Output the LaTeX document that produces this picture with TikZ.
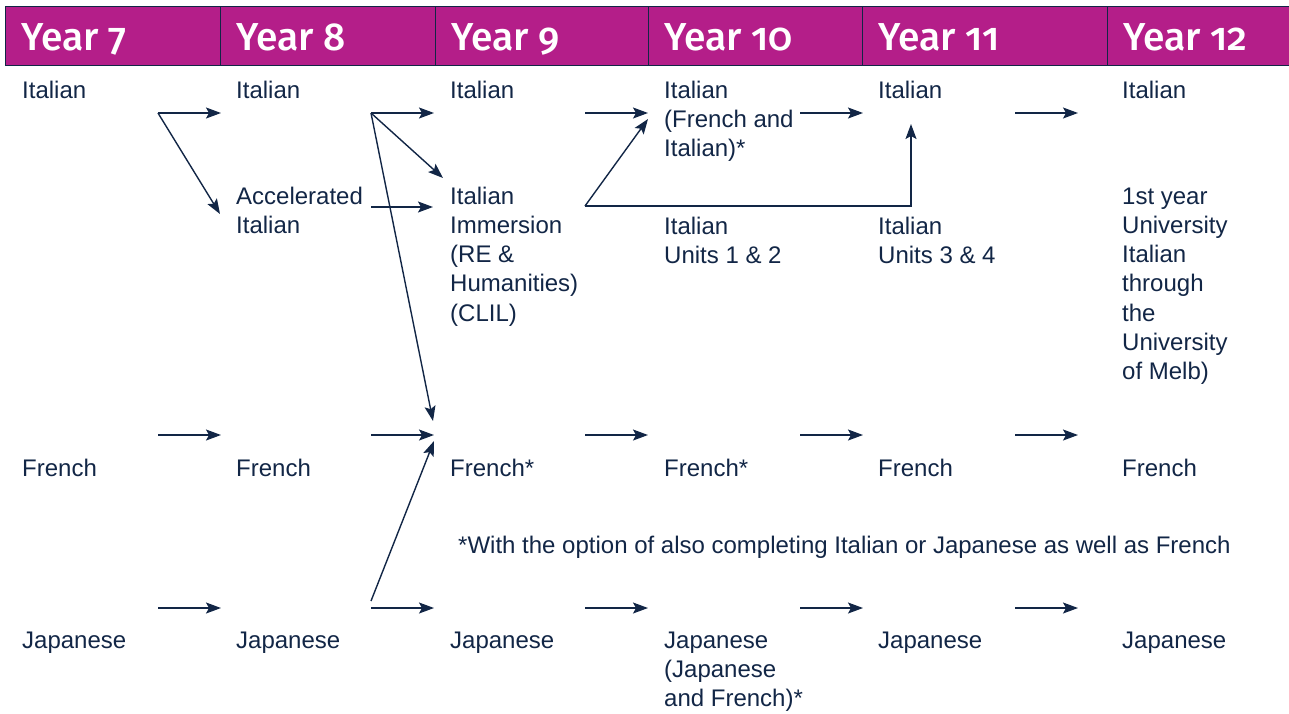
\documentclass[tikz,border=0pt]{standalone}
\usepackage{fontspec}
\setmainfont{Liberation Sans}
\IfFontExistsTF{Fira Sans Medium}
  {\newfontfamily\yearfont[Numbers=OldStyle]{Fira Sans Medium}}
  {\newfontfamily\yearfont[Numbers=OldStyle]{Fira Sans}}
\usetikzlibrary{arrows.meta}
\definecolor{plum}{RGB}{180,30,137}
\definecolor{navy}{RGB}{18,38,70}
\tikzset{
  subj/.style={anchor=base west, inner sep=0pt, align=left, text=navy,
    font=\fontsize{24}{29.3}\selectfont},
  yr/.style={anchor=base west, inner sep=0pt, text=white,
    font=\yearfont\fontsize{39}{39}\selectfont},
  cell/.style={fill=plum, draw=navy, line width=0.8pt},
  link/.style={draw=navy, line width=1.4pt,
    -{Stealth[length=15pt,width=11pt,inset=3pt]}}
}
\begin{document}
\begin{tikzpicture}[x=1pt,y=-1pt]
	\useasboundingbox (0,0) rectangle (1289,713);
	% header
	\foreach \l/\r/\n in {5/220/7, 220/435/8, 435/648/9, 648/862/10, 862/1107/11, 1107/1290/12} {
		\draw[cell] (\l,6) rectangle (\r,65);
		\node[yr] (y\n) at (\l+16,50) {Year \n};
	}
	% Italian (multi-line nodes sit on their last baseline)
	\node[subj] (it7) at (22,98) {Italian};
	\node[subj] (it8) at (236,98) {Italian};
	\node[subj] (it9) at (450,98) {Italian};
	\node[subj] (it10) at (664,156.6) {Italian\\(French and\\Italian)*};
	\node[subj] (it11) at (878,98) {Italian};
	\node[subj] (it12) at (1122,98) {Italian};
	\node[subj] (acc8) at (236,233.3) {Accelerated\\Italian};
	\node[subj] (imm9) at (450,321.2) {Italian\\Immersion\\(RE \&\\Humanities)\\(CLIL)};
	\node[subj] (un10) at (664,263.3) {Italian\\Units 1 \& 2};
	\node[subj] (un11) at (878,263.3) {Italian\\Units 3 \& 4};
	\node[subj] (uni12) at (1122,379.8) {1st year\\University\\Italian\\through\\the\\University\\of Melb)};
	% French
	\node[subj] (fr7) at (22,476) {French};
	\node[subj] (fr8) at (236,476) {French};
	\node[subj] (fr9) at (450,476) {French*};
	\node[subj] (fr10) at (664,476) {French*};
	\node[subj] (fr11) at (878,476) {French};
	\node[subj] (fr12) at (1122,476) {French};
	\node[subj] (note) at (458,553) {*With the option of also completing Italian or Japanese as well as French};
	% Japanese
	\node[subj] (ja7) at (22,648) {Japanese};
	\node[subj] (ja8) at (236,648) {Japanese};
	\node[subj] (ja9) at (450,648) {Japanese};
	\node[subj] (ja10) at (664,706.6) {Japanese\\(Japanese\\and French)*};
	\node[subj] (ja11) at (878,648) {Japanese};
	\node[subj] (ja12) at (1122,648) {Japanese};
	% arrow ends
	\foreach \y/\r in {113/a, 435/f, 608/j}
		\foreach \o/\i/\n in {158/221/7, 371/434/8, 585/648/9, 800/863/10, 1015/1078/11} {
			\coordinate (o\n\r) at (\o,\y);
			\coordinate (i\n\r) at (\i,\y);
		}
	\coordinate (accin) at (220,214);
	\coordinate (accout) at (371,207);
	\coordinate (immin) at (443,178);
	\coordinate (immacc) at (433,207);
	\coordinate (frin) at (433,421);
	\coordinate (frja) at (434,441);
	\coordinate (jaout) at (371,601);
	\coordinate (immout) at (585,206);
	\coordinate (it10in) at (648,119);
	\coordinate (it11in) at (911,124);
	% arrows
	\foreach \n in {7,...,11}
		\foreach \r in {a,f,j}
			\draw[link] (o\n\r) -- (i\n\r);
	\draw[link] (o7a) -- (accin);
	\draw[link] (o8a) -- (immin);
	\draw[link] (o8a) -- (frin);
	\draw[link] (accout) -- (immacc);
	\draw[link] (jaout) -- (frja);
	\draw[link] (immout) -- (it10in);
	\draw[link] (immout) -| (it11in);
\end{tikzpicture}
\end{document}
